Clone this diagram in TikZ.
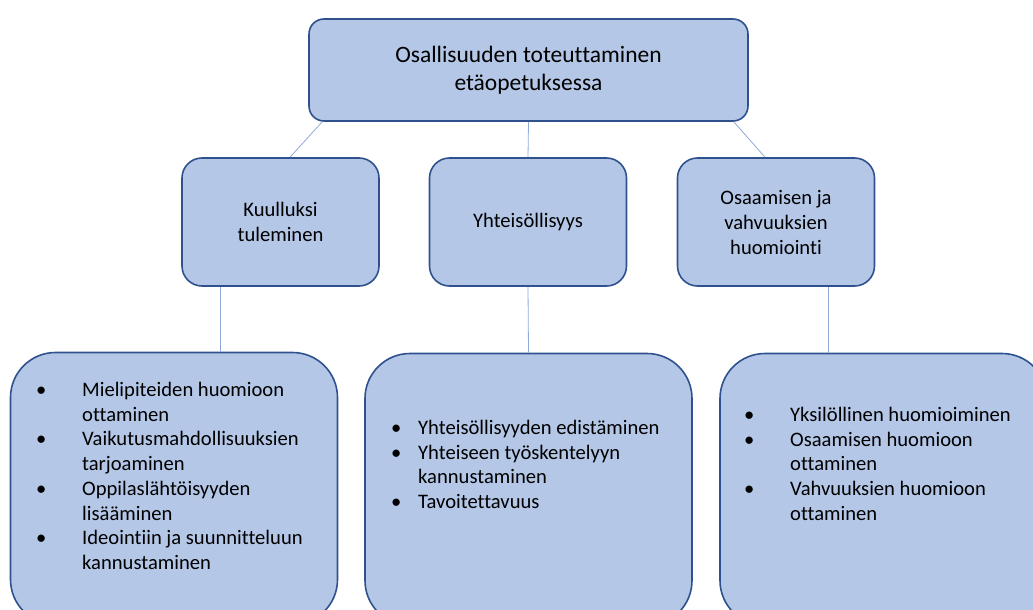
\documentclass[tikz,border=0pt]{standalone}
\usepackage{fontspec}
\setmainfont{Carlito}[Ligatures=NoCommon]
\usepackage{tikz}
\usepackage{xcolor}
\definecolor{boxfill}{RGB}{180,199,231}
\definecolor{boxline}{RGB}{47,82,143}
\definecolor{linkblue}{RGB}{143,170,220}
\newcommand{\bul}[1]{\makebox[#1][l]{•}}
\newcommand{\cont}[1]{\hspace*{#1}}

\begin{document}
\begin{tikzpicture}[
    x=1pt, y=-1pt,
    topbox/.style={rectangle, rounded corners=15pt, draw=boxline, line width=1.6pt, fill=boxfill, minimum width=439pt, minimum height=102pt, align=center, font=\fontsize{23.5}{28}\selectfont},
    midbox/.style={rectangle, rounded corners=20pt, draw=boxline, line width=1.6pt, fill=boxfill, minimum width=197pt, minimum height=128pt, align=center, font=\fontsize{20.6}{25}\selectfont},
    listbox/.style={rectangle, rounded corners=45pt, draw=boxline, line width=1.6pt, fill=boxfill, minimum width=327pt, minimum height=272pt},
    listtext/.style={anchor=north west, inner sep=0pt, align=left, font=\fontsize{20.6}{24.7}\selectfont},
    conn/.style={draw=linkblue, line width=0.8pt}
]
\useasboundingbox (0,0) rectangle (1033,610);

% top
\node[topbox] (osal) at (528.5, 70) {Osallisuuden toteuttaminen\\etäopetuksessa};

% middle row
\node[midbox] (kuul) at (280.5, 222) {Kuulluksi\\tuleminen};
\node[midbox] (yht) at (528, 222) {Yhteisöllisyys};
\node[midbox] (osaa) at (776, 222) {Osaamisen ja\\vahvuuksien\\huomiointi};

% bottom row (boxes run past the page edge)
\node[listbox] (kuullist) at (174, 488.5) {};
\node[listbox] (yhtlist) at (528.5, 489.5) {};
\node[listbox] (osaalist) at (883.5, 489.5) {};

% bullet lists
\node[listtext] (kuultext) at (36, 382) {\bul{46pt}Mielipiteiden huomioon\\
    \cont{46pt}ottaminen\\
    \bul{46pt}Vaikutusmahdollisuuksien\\
    \cont{46pt}tarjoaminen\\
    \bul{46pt}Oppilaslähtöisyyden\\
    \cont{46pt}lisääminen\\
    \bul{46pt}Ideointiin ja suunnitteluun\\
    \cont{46pt}kannustaminen};
\node[listtext] (yhttext) at (391, 420) {\bul{27pt}Yhteisöllisyyden edistäminen\\
    \bul{27pt}Yhteiseen työskentelyyn\\
    \cont{27pt}kannustaminen\\
    \bul{27pt}Tavoitettavuus};
\node[listtext] (osaatext) at (744, 407) {\bul{46pt}Yksilöllinen huomioiminen\\
    \bul{46pt}Osaamisen huomioon\\
    \cont{46pt}ottaminen\\
    \bul{46pt}Vahvuuksien huomioon\\
    \cont{46pt}ottaminen};

% top to middle
\draw[conn] ([xshift=14pt]osal.south west) -- ([xshift=9.5pt]kuul.north);
\draw[conn] (osal.south) -- (yht.north);
\draw[conn] ([xshift=-15pt]osal.south east) -- ([xshift=-11pt]osaa.north);

% middle to bottom
\draw[conn] ([xshift=-60.5pt]kuul.south) -- ([xshift=46pt]kuullist.north);
\draw[conn] (yht.south) -- (yhtlist.north);
\draw[conn] ([xshift=52pt]osaa.south) -- ([xshift=-55.5pt]osaalist.north);
\end{tikzpicture}
\end{document}
